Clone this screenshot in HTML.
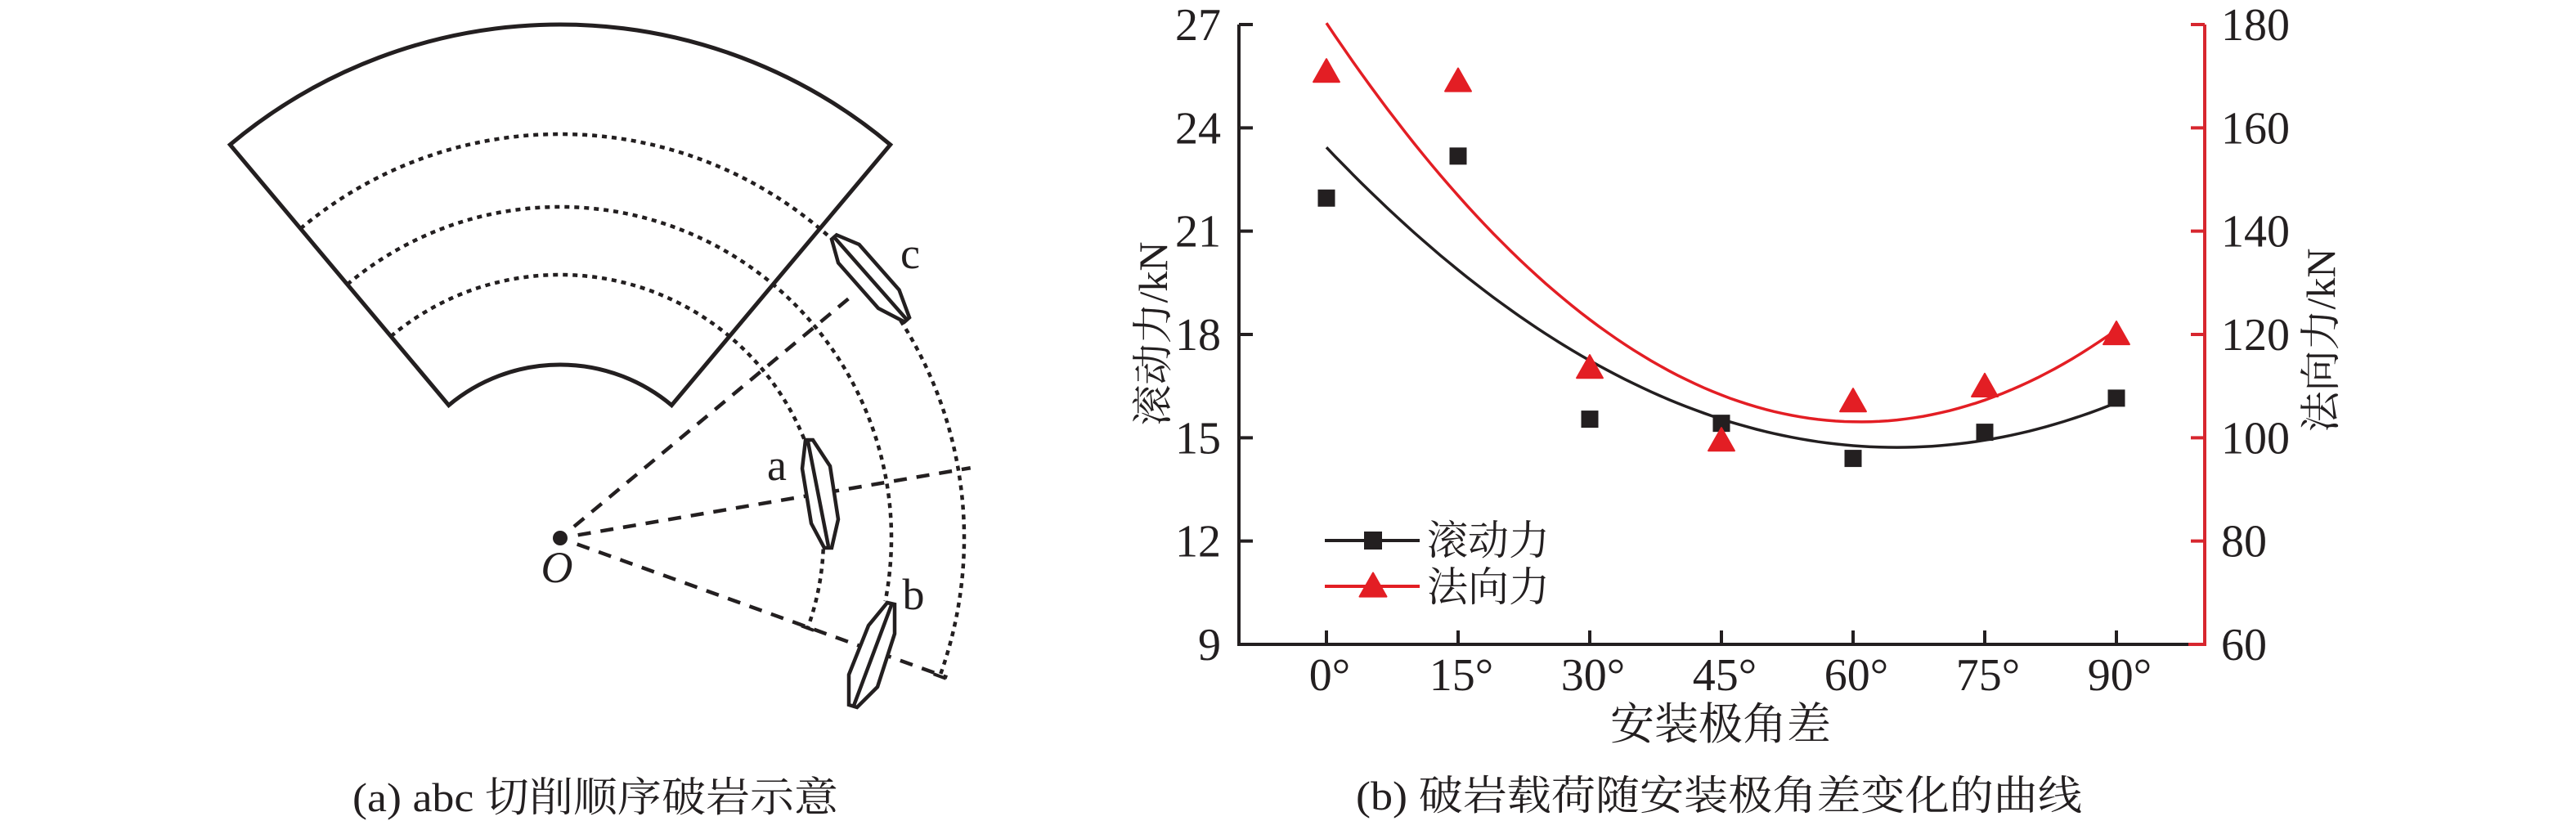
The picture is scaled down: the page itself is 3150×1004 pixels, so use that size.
<!DOCTYPE html>
<html><head><meta charset="utf-8"><style>
html,body{margin:0;padding:0;background:#fff;}
svg{display:block;}
svg text{font-family:"Liberation Serif","Noto Serif CJK SC",serif;fill:#231f20;}
</style></head><body>
<svg id="fig" width="3150" height="1004" viewBox="0 0 3150 1004" xmlns="http://www.w3.org/2000/svg" font-family="'Liberation Serif','Noto Serif CJK SC',serif">
<g id="left" fill="none" stroke="#231f20"></g>
<g id="chart"></g>
</svg>
<script>
// ---------- chart data ----------
const angles = [0, 15, 30, 45, 60, 75, 90];
const xTickLabels = ["0°", "15°", "30°", "45°", "60°", "75°", "90°"];
const rollingForce = [21.96, 23.18, 15.54, 15.42, 14.4, 15.16, 16.15];
const normalForce = [170.8, 169.0, 113.5, 99.4, 107.0, 109.9, 120.0];
const leftTicks = [9, 12, 15, 18, 21, 24, 27];
const rightTicks = [60, 80, 100, 120, 140, 160, 180];

const NS = "http://www.w3.org/2000/svg";
const FONT = "'Liberation Serif','Noto Serif CJK SC',serif";
function mk(tag, attrs, parent, txt) {
  const e = document.createElementNS(NS, tag);
  for (const k in attrs) e.setAttribute(k, attrs[k]);
  if (tag === 'text') { e.setAttribute('font-family', FONT); e.setAttribute('fill', '#231f20'); }
  if (txt !== undefined) e.textContent = txt;
  parent.appendChild(e);
  return e;
}

// ---------- left diagram ----------
const L = document.getElementById('left');
const Ox = 685, Oy = 658;
function pt(r, deg) { const a = deg * Math.PI / 180; return [Ox + r * Math.sin(a), Oy - r * Math.cos(a)]; }
function arcD(r, a0, a1) { const p0 = pt(r, a0), p1 = pt(r, a1); const large = (a1 - a0) > 180 ? 1 : 0; return `M${p0[0]},${p0[1]} A${r},${r} 0 ${large} 1 ${p1[0]},${p1[1]}`; }
{
  const R = 628, r = 212, h = 40;
  const a = pt(R, -h), b = pt(R, h), c = pt(r, h), d = pt(r, -h);
  const s = mk('path', { d: `M${a[0]},${a[1]} A${R},${R} 0 0 1 ${b[0]},${b[1]} L${c[0]},${c[1]} A${r},${r} 0 0 0 ${d[0]},${d[1]} Z`, 'stroke-width': 5, 'stroke-linejoin': 'miter' }, L);
  
  
}
const dottedArcs = [[322, -40, 110], [405, -40, 101], [494, -40, 110]];
dottedArcs.forEach((q, i) => {
  const p = mk('path', { d: arcD(q[0], q[1], q[2]), 'stroke-width': 4.5, 'stroke-dasharray': '6 6' }, L);
  
  
});
[[322,110],[494,110]].forEach(q => {
  const p1 = pt(q[0] - 8, q[1]), p2 = pt(q[0] + 8, q[1]);
  const t = mk('path', { d: `M${p1[0]},${p1[1]} L${p2[0]},${p2[1]}`, 'stroke-width': 4 }, L);
  
  
});
const rays = [[50.3, 464], [80.3, 509], [109.8, 503]];
rays.forEach((q, i) => {
  const p0 = pt(22, q[0]), p1 = pt(q[1], q[0]);
  const p = mk('path', { d: `M${p0[0]},${p0[1]} L${p1[0]},${p1[1]}`, 'stroke-width': 4.5, 'stroke-dasharray': '16 12' }, L);
  
  
});
const oc = mk('circle', { cx: Ox, cy: Oy, r: 9, fill: '#231f20', stroke: 'none' }, L);


function cutter(name, poly, line) {
  const g = mk('g', { 'stroke-width': 4.5, 'stroke-linejoin': 'miter' }, L);
  
  
  mk('polygon', { points: poly.map(p => p.join(',')).join(' '), fill: '#fff' }, g);
  mk('path', { d: `M${line[0][0]},${line[0][1]} L${line[1][0]},${line[1][1]}` }, g);
}
cutter('cutter-a', [[985,538],[994,538],[1015,570],[1025,635],[1017,670],[1008,670],[992,640],[981,573]], [[988,540],[1013,668]]);
cutter('cutter-b', [[1085,737],[1094,739],[1094,775],[1073,840],[1048,865],[1038,862],[1038,825],[1062,765]], [[1090,740],[1044,863]]);
{
  const P1 = [1020, 290], P2 = [1109, 391];
  const dx = P2[0] - P1[0], dy = P2[1] - P1[1], len = Math.hypot(dx, dy), ux = dx / len, uy = dy / len, nx = -uy, ny = ux;
  const prof = [[0, 4], [0.2, 17], [0.75, 17], [1, 4]];
  const pts = [];
  prof.forEach(q => pts.push([P1[0] + ux * len * q[0] + nx * q[1], P1[1] + uy * len * q[0] + ny * q[1]]));
  prof.slice().reverse().forEach(q => pts.push([P1[0] + ux * len * q[0] - nx * q[1], P1[1] + uy * len * q[0] - ny * q[1]]));
  cutter('cutter-c', pts, [P1, P2]);
}
[['a', 950, 587, 'label-a', 'normal'], ['b', 1117, 745, 'label-b', 'normal'], ['c', 1113, 328, 'label-c', 'normal'], ['O', 681, 712, 'label-o', 'italic']].forEach(q => {
  const t = mk('text', { x: q[1], y: q[2], 'text-anchor': 'middle', 'font-size': 54, 'font-style': q[4], stroke: 'none' }, L, q[0]);
  
  
});
{
  const t = mk('text', { x: 431, y: 992, 'font-size': 50, stroke: 'none', textLength: 594, lengthAdjust: 'spacingAndGlyphs' }, L, '(a) abc 切削顺序破岩示意');
  
  
}

// ---------- chart ----------
const C = document.getElementById('chart');
const xL = 1515, xR = 2696, yT = 30, yB = 788;
const xS = d => 1622 + d * (2588 - 1622) / 90;
const yLS = v => yT + (27 - v) * (yB - yT) / 18;
const yRS = v => yT + (180 - v) * (yB - yT) / 120;
const BLK = '#231f20', RED = '#e31e24', RAX = '#d7262e';

function fitQuad(xs, ys) {
  let S = [0,0,0,0,0], T = [0,0,0];
  xs.forEach((x, i) => { let p = 1; for (let k = 0; k < 5; k++) { S[k] += p; if (k < 3) T[k] += p * ys[i]; p *= x; } });
  const M = [[S[0],S[1],S[2],T[0]],[S[1],S[2],S[3],T[1]],[S[2],S[3],S[4],T[2]]];
  for (let i = 0; i < 3; i++) { for (let j = i + 1; j < 3; j++) { const f = M[j][i] / M[i][i]; for (let k = i; k < 4; k++) M[j][k] -= f * M[i][k]; } }
  const c = [0,0,0];
  for (let i = 2; i >= 0; i--) { let s = M[i][3]; for (let k = i + 1; k < 3; k++) s -= M[i][k] * c[k]; c[i] = s / M[i][i]; }
  return c;
}
function curve(vals, ys, color, name) {
  const c = fitQuad(angles, vals);
  let d = '';
  for (let a = angles[0]; a <= angles[angles.length - 1] + 0.001; a += 1) {
    const v = c[0] + c[1] * a + c[2] * a * a;
    d += (d ? 'L' : 'M') + xS(a).toFixed(1) + ',' + ys(v).toFixed(1);
  }
  const p = mk('path', { d: d, fill: 'none', stroke: color, 'stroke-width': 3.5 }, C);
  
  
}
curve(normalForce, yRS, RED, 'normal-force-fit-curve');
curve(rollingForce, yLS, BLK, 'rolling-force-fit-curve');

{
  const ax = mk('path', { d: `M${xL},${yT} L${xL},${yB} L${xR - 20},${yB}`, fill: 'none', stroke: BLK, 'stroke-width': 4 }, C);
  
  
  const ar = mk('path', { d: `M${xR - 20},${yB} L${xR},${yB} L${xR},${yT}`, fill: 'none', stroke: RAX, 'stroke-width': 4 }, C);
  
  
}
leftTicks.forEach(v => {
  const y = yLS(v);
  const t = mk('line', { x1: xL, x2: xL + 17, y1: y, y2: y, stroke: BLK, 'stroke-width': 4 }, C);
  
  
  const l = mk('text', { x: 1493, y: y + 19, 'text-anchor': 'end', 'font-size': 56 }, C, String(v));
  
  
});
rightTicks.forEach(v => {
  const y = yRS(v);
  const t = mk('line', { x1: xR - 17, x2: xR, y1: y, y2: y, stroke: RAX, 'stroke-width': 4 }, C);
  
  
  const l = mk('text', { x: 2716, y: y + 19, 'font-size': 56 }, C, String(v));
  
  
});
angles.forEach((a, i) => {
  const x = xS(a);
  const t = mk('line', { x1: x, x2: x, y1: yB, y2: yB - 17, stroke: BLK, 'stroke-width': 4 }, C);
  
  
  const l = mk('text', { x: x + 4, y: 844, 'text-anchor': 'middle', 'font-size': 56 }, C, xTickLabels[i]);
  
  
});

function tri(cx, cy, s, name) {
  const p = mk('polygon', { points: `${cx},${cy - s * 0.55} ${cx + s * 0.55},${cy + s * 0.42} ${cx - s * 0.55},${cy + s * 0.42}`, fill: RED, stroke: RED, 'stroke-width': 2, 'stroke-linejoin': 'round' }, C);
  
  
}
function sq(cx, cy, s, name) {
  const r = mk('rect', { x: cx - s / 2, y: cy - s / 2, width: s, height: s, fill: BLK }, C);
  
  
}
angles.forEach((a, i) => {
  sq(xS(a), yLS(rollingForce[i]), 21, 'rolling-force-point');
  tri(xS(a), yRS(normalForce[i]), 29, 'normal-force-point');
});

{
  const g = mk('g', {}, C);
  
  
  const l1 = mk('line', { x1: 1620, x2: 1736, y1: 661, y2: 661, stroke: BLK, 'stroke-width': 4 }, g);
  
  
  const l2 = mk('line', { x1: 1620, x2: 1736, y1: 717, y2: 717, stroke: RED, 'stroke-width': 4 }, g);
  
  
  sq(1679, 661, 22, 'legend-square');
  tri(1679, 717, 30, 'legend-triangle');
  const t1 = mk('text', { x: 1745, y: 678, 'font-size': 50 }, g, '滚动力');
  
  
  const t2 = mk('text', { x: 1745, y: 735, 'font-size': 50 }, g, '法向力');
  
  
}

{
  const yt = mk('text', { x: 0, y: 0, 'text-anchor': 'middle', 'font-size': 50, transform: 'translate(1427,408) rotate(-90)' }, C, '滚动力/kN');
  
  
  const yr = mk('text', { x: 0, y: 0, 'text-anchor': 'middle', 'font-size': 50, transform: 'translate(2855,416) rotate(-90)' }, C, '法向力/kN');
  
  
  const xt = mk('text', { x: 2104, y: 904, 'text-anchor': 'middle', 'font-size': 54 }, C, '安装极角差');
  
  
  const cap = mk('text', { x: 1658, y: 990, 'font-size': 50, textLength: 888, lengthAdjust: 'spacingAndGlyphs' }, C, '(b) 破岩载荷随安装极角差变化的曲线');
  
  
}
</script>
</body></html>
